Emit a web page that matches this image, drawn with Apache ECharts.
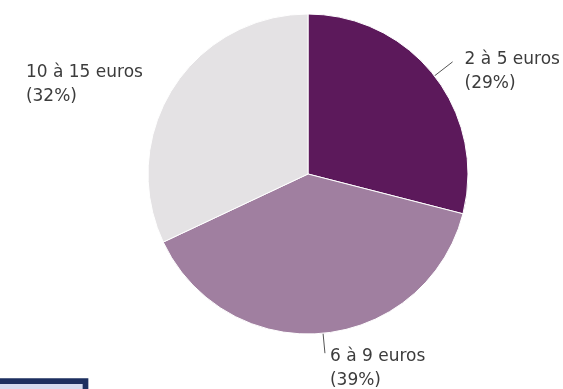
<!DOCTYPE html>
<html>
<head>
<meta charset="utf-8">
<script src="https://cdn.jsdelivr.net/npm/echarts@6/dist/echarts.min.js"></script>
<style>
html,body{margin:0;padding:0;background:#fff;}
#chart{width:563px;height:389px;}
</style>
</head>
<body>
<div id="chart"></div>
<script>
const categories = ['2 à 5 euros', '6 à 9 euros', '10 à 15 euros'];
const values = [29, 39, 32];
const colors = ['#5c195b', '#a07fa0', '#e4e2e4'];

const labelTweaks = [
  { show: true, length: 23, distance: 12, dy: 10 },
  { show: true, length: 20, distance: 5, dy: 15.5 },
  { show: false, length: 0, distance: 30, dy: -4 }
];

const chart = echarts.init(document.getElementById('chart'), null, { renderer: 'canvas' });

const data = categories.map((name, i) => ({
  name: name,
  value: values[i],
  itemStyle: { color: colors[i] },
  label: {
    distanceToLabelLine: labelTweaks[i].distance
  },
  labelLine: {
    show: labelTweaks[i].show,
    length: labelTweaks[i].length,
    length2: 0
  }
}));

const textStyle = {
  fontFamily: 'DejaVu Sans',
  fontSize: 17,
  lineHeight: 24,
  color: '#3c3c3c',
  align: 'left'
};

chart.setOption({
  animation: false,
  backgroundColor: '#ffffff',
  graphic: [{
    type: 'rect',
    shape: { x: -20, y: 381.2, width: 105.5, height: 30 },
    style: { fill: '#d5dbef', stroke: '#1d2f5f', lineWidth: 5.7 },
    silent: true
  }],
  series: [{
    type: 'pie',
    center: [308, 174],
    radius: [0, 160],
    startAngle: 90,
    clockwise: true,
    avoidLabelOverlap: false,
    percentPrecision: 0,
    data: data,
    itemStyle: { borderColor: '#ffffff', borderWidth: 1 },
    label: {
      show: true,
      position: 'outside',
      formatter: '{t|{b}}\n{t|({d}%)}',
      fontFamily: 'DejaVu Sans',
      fontSize: 17,
      lineHeight: 24,
      color: '#3c3c3c',
      overflow: 'none',
      rich: { t: textStyle }
    },
    labelLine: {
      lineStyle: { color: '#555555', width: 1 },
      smooth: false
    },
    labelLayout: function (params) {
      return { dy: labelTweaks[params.dataIndex].dy };
    },
    emphasis: { disabled: true }
  }]
});
</script>
</body>
</html>
